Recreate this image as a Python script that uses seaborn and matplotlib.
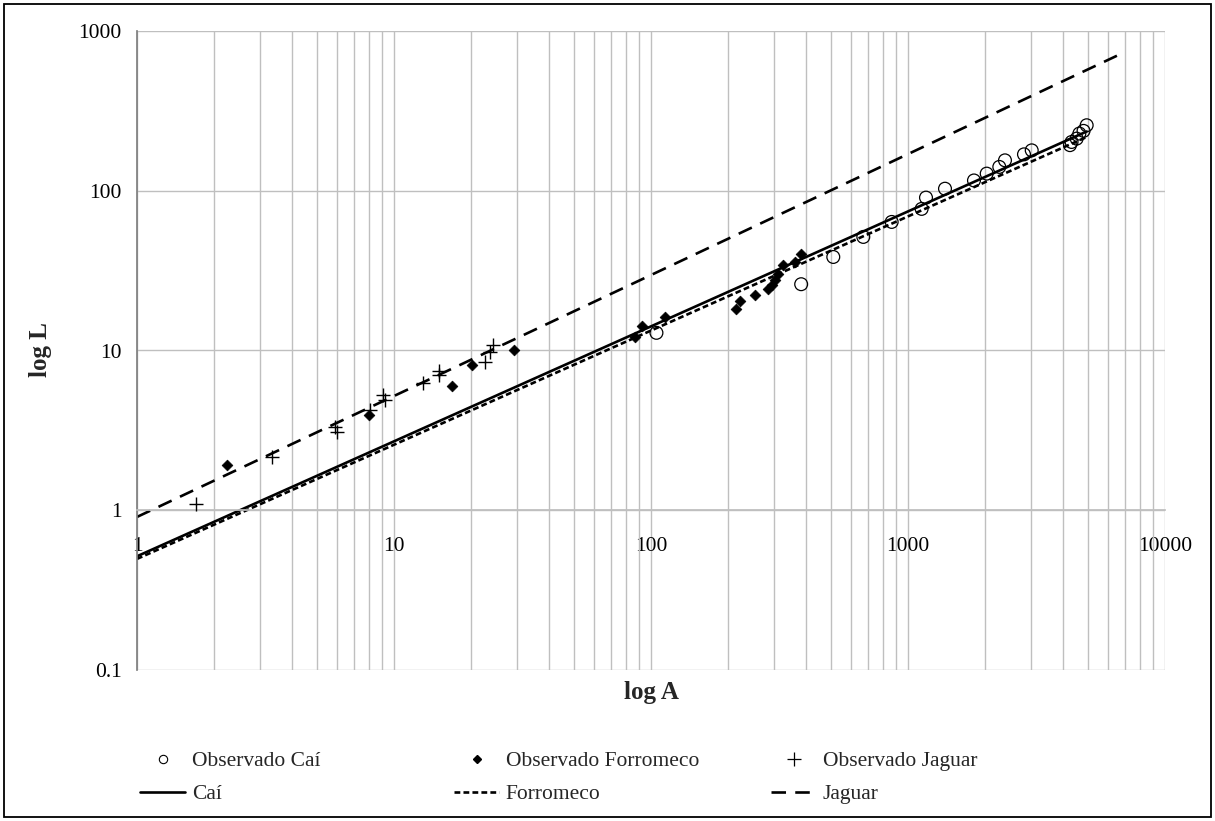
import numpy as np
import pandas as pd
import matplotlib
matplotlib.use("Agg")
import matplotlib.pyplot as plt
from matplotlib.lines import Line2D
from matplotlib.patches import Rectangle
import matplotlib.ticker as mticker
import seaborn as sns

# ---------------- data ----------------
cai_A = [105, 384, 512, 670, 864, 1130, 1175, 1393, 1806, 2024, 2266, 2384, 2827, 3030, 4268, 4330, 4532, 4643, 4820, 4957]
cai_L = [12.9, 26.0, 38.5, 51.4, 63.8, 77.0, 90.6, 103, 116, 128, 141, 155, 169, 179, 193, 202, 212, 228, 237, 257]

forr_A = [2.24, 8.0, 16.8, 20.1, 29.3, 87, 92, 113, 215, 221, 255, 284, 295, 304, 313, 327, 363, 382]
forr_L = [1.91, 3.93, 5.97, 8.17, 10.0, 12.2, 14.2, 16.2, 18.1, 20.4, 22.2, 24.2, 25.6, 27.5, 30.3, 34.2, 35.8, 40.1]

jag_A = [1.69, 3.35, 6.0, 5.9, 8.1, 9.1, 9.2, 13.0, 14.9, 15.0, 22.6, 23.6, 24.3]
jag_L = [1.09, 2.16, 3.1, 3.3, 4.23, 5.25, 4.9, 6.27, 7.45, 7.0, 8.48, 9.8, 10.8]

line_A = [1, 4960]
cai_fit = [0.515, 235]
forr_fit = [0.496, 217]
jag_line_A = [1, 6500]
jag_fit = [0.908, 700]

xticks = [1, 10, 100, 1000, 10000]
xtick_labels = ["1", "10", "100", "1000", "10000"]
yticks = [0.1, 1, 10, 100, 1000]
ytick_labels = ["0.1", "1", "10", "100", "1000"]

labels_obs = ["Observado Caí", "Observado Forromeco", "Observado Jaguar"]
labels_fit = ["Caí", "Forromeco", "Jaguar"]

# ---------------- style ----------------
sns.set_theme(style="white")
plt.rcParams['font.family'] = ['Liberation Serif', 'DejaVu Serif']

W, H = 1215, 821
fig = plt.figure(figsize=(W / 100, H / 100), dpi=100)
L0, R0, T0, B0 = 137, 1165, 31, 670
ax = fig.add_axes([L0 / W, 1 - B0 / H, (R0 - L0) / W, (B0 - T0) / H])

GRID = "#bfbfbf"
FS = 15.5

ax.set_xscale("log")
ax.set_yscale("log")
ax.set_xlim(1, 10000)
ax.set_ylim(0.1, 1000)

# gridlines
ax.xaxis.set_major_locator(mticker.FixedLocator(xticks))
ax.xaxis.set_minor_locator(mticker.LogLocator(base=10, subs=np.arange(2, 10)))
ax.yaxis.set_major_locator(mticker.FixedLocator(yticks))
ax.yaxis.set_minor_locator(mticker.NullLocator())
ax.grid(True, which="major", axis="both", color=GRID, lw=1.0)
ax.grid(True, which="minor", axis="x", color=GRID, lw=1.0)
ax.set_axisbelow(True)

ax.xaxis.set_minor_formatter(mticker.NullFormatter())
ax.set_xticklabels(xtick_labels)
ax.set_yticklabels(ytick_labels)
ax.tick_params(axis="both", which="both", length=0, labelsize=FS, colors="black")
ax.tick_params(axis="y", pad=11)
ax.tick_params(axis="x", pad=19)

# x axis crosses at L = 1 (Excel style)
ax.spines['bottom'].set_position(('data', 1))
ax.spines['bottom'].set_color(GRID)
ax.spines['left'].set_color("#808080")
ax.spines['top'].set_visible(False)
ax.spines['right'].set_visible(False)

# fitted lines
sns.lineplot(x=line_A, y=cai_fit, ax=ax, color="black", lw=1.9, linestyle="-")
sns.lineplot(x=line_A, y=forr_fit, ax=ax, color="black", lw=1.9)
sns.lineplot(x=jag_line_A, y=jag_fit, ax=ax, color="black", lw=1.9)
for ln, d in zip(ax.lines[1:3], [(2.2, 1.2), (5.5, 3.5)]):
    ln.set_dashes(d)

# observed points
sns.scatterplot(x=cai_A, y=cai_L, ax=ax, marker="o", s=85, facecolor="none",
                edgecolor="black", linewidth=0.9, zorder=3)
sns.scatterplot(x=forr_A, y=forr_L, ax=ax, marker="D", s=30, color="black",
                edgecolor="black", linewidth=0.5, zorder=3)
sns.scatterplot(x=jag_A, y=jag_L, ax=ax, marker="+", s=100, color="black",
                linewidth=1.0, zorder=3)

ax.set_xlabel("")
ax.set_ylabel("")

# axis titles
fig.text(651 / W, 1 - 692 / H, "log A", ha="center", va="center",
         fontsize=18, fontweight="bold")
fig.text(40 / W, 1 - 350 / H, "log L", ha="center", va="center",
         fontsize=18, fontweight="bold", rotation=90)

# legend (three columns, two rows)
obs_handles = [
    Line2D([], [], ls="none", marker="o", ms=6, mfc="none", mec="black", mew=0.8),
    Line2D([], [], ls="none", marker="D", ms=4.5, mfc="black", mec="black"),
    Line2D([], [], ls="none", marker="+", ms=10, mec="black", mew=0.9),
]
fit_handles = [
    Line2D([], [], color="black", lw=1.9, ls="-"),
    Line2D([], [], color="black", lw=1.9, dashes=(2.2, 1.2)),
    Line2D([], [], color="black", lw=1.9, dashes=(5.5, 3.5)),
]
col_x = [140, 454, 771]
for i in range(3):
    fig.legend(handles=[obs_handles[i], fit_handles[i]],
               labels=[labels_obs[i], labels_fit[i]],
               loc="upper left", bbox_to_anchor=(col_x[i] / W, 1 - 751 / H),
               frameon=False, fontsize=FS, handlelength=2.1,
               handletextpad=0.3, labelspacing=0.6, borderpad=0,
               borderaxespad=0)

# outer frame
fig.patches.append(Rectangle((4 / W, 4 / H), 1 - 8 / W, 1 - 8 / H,
                             transform=fig.transFigure, fill=False,
                             edgecolor="black", lw=1.3))

fig.savefig("out.png", dpi=100)
